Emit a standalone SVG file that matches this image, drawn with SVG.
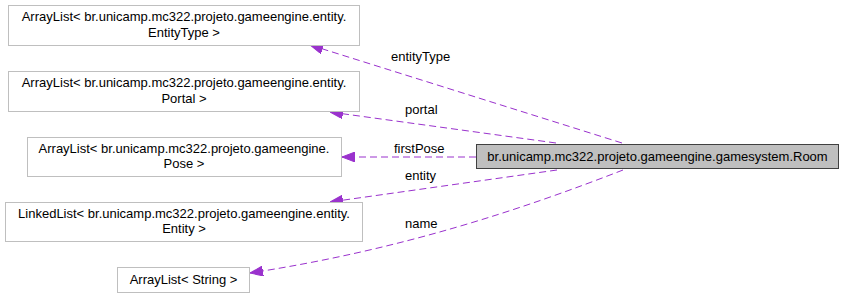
<svg xmlns="http://www.w3.org/2000/svg" width="844" height="299" viewBox="0 0 844 299">
  <style>
    text { font-family: "Liberation Sans", Arial, sans-serif; font-size: 13px; fill: #000; }
    .node rect { fill: #fff; stroke: #bfbfbf; stroke-width: 1; }
    #room rect { fill: #bfbfbf; stroke: #404040; stroke-width: 1; }
    .edge { fill: none; stroke: #9a32cd; stroke-width: 1; stroke-dasharray: 7 4; marker-end: url(#arrow); }
    .c { text-anchor: middle; }
  </style>
  <defs>
    <marker id="arrow" viewBox="0 0 13 10" refX="13" refY="5" markerWidth="13" markerHeight="10" markerUnits="userSpaceOnUse" orient="auto">
      <path d="M0,0 L13,5 L0,10 Z" fill="#9a32cd" stroke="#9a32cd"/>
    </marker>
  </defs>
  <rect width="844" height="299" fill="#fff"/>

  <g id="edges">
    <path class="edge" d="M622,143 L310,45"/>
    <path class="edge" d="M556,143 L330,112"/>
    <path class="edge" d="M476,157 L342,157"/>
    <path class="edge" d="M557,170 L330,202"/>
    <path class="edge" d="M623,170 C520,210 400,250 250,273"/>
    <text x="391" y="61">entityType</text>
    <text x="405" y="114">portal</text>
    <text x="394" y="153">firstPose</text>
    <text x="405" y="180">entity</text>
    <text x="405" y="228">name</text>
  </g>

  <g id="room">
    <rect x="476.5" y="144.5" width="362" height="24"/>
    <text class="c" x="657.5" y="161">br.unicamp.mc322.projeto.gameengine.gamesystem.Room</text>
  </g>

  <g id="entityType" class="node">
    <rect x="8.5" y="5.5" width="351" height="40"/>
    <text class="c" x="184" y="21">ArrayList&lt; br.unicamp.mc322.projeto.gameengine.entity.</text>
    <text class="c" x="184" y="37">EntityType &gt;</text>
  </g>

  <g id="portal" class="node">
    <rect x="8.5" y="71.5" width="351" height="40"/>
    <text class="c" x="184" y="87">ArrayList&lt; br.unicamp.mc322.projeto.gameengine.entity.</text>
    <text class="c" x="184" y="103">Portal &gt;</text>
  </g>

  <g id="pose" class="node">
    <rect x="27.5" y="137.5" width="314" height="39"/>
    <text class="c" x="184" y="153">ArrayList&lt; br.unicamp.mc322.projeto.gameengine.</text>
    <text class="c" x="184" y="168">Pose &gt;</text>
  </g>

  <g id="entity" class="node">
    <rect x="5.5" y="202.5" width="357" height="39"/>
    <text class="c" x="184" y="218">LinkedList&lt; br.unicamp.mc322.projeto.gameengine.entity.</text>
    <text class="c" x="184" y="233">Entity &gt;</text>
  </g>

  <g id="string" class="node">
    <rect x="117.5" y="267.5" width="132" height="25"/>
    <text class="c" x="183.5" y="284">ArrayList&lt; String &gt;</text>
  </g>
</svg>
